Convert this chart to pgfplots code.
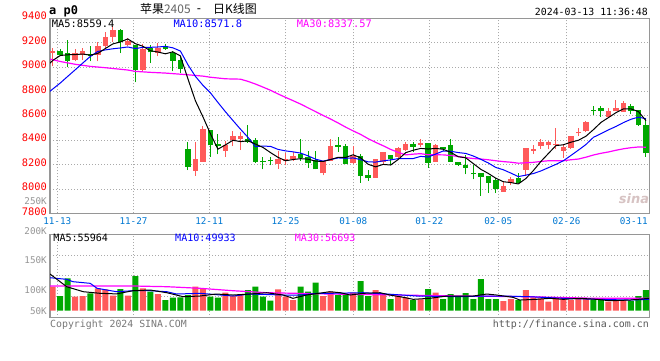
\documentclass[border=0pt]{standalone}
\usepackage{fontspec}
\usepackage{pgfplots}
\usepackage{pgfplotstable}
\pgfplotsset{compat=1.18}
\setmainfont{DejaVu Sans}
\newfontfamily\mono{DejaVu Sans Mono}
\newfontfamily\cjk{Noto Sans CJK SC}
\definecolor{cred}{RGB}{255,90,90}
\definecolor{cgreen}{RGB}{0,168,0}
\definecolor{cblue}{RGB}{0,0,255}
\definecolor{cmag}{RGB}{255,0,255}
\definecolor{cdate}{RGB}{0,120,210}
\definecolor{cgrid}{RGB}{170,170,170}
\definecolor{cframe}{RGB}{150,150,150}
\definecolor{cvlab}{RGB}{150,150,150}
\definecolor{cprice}{RGB}{255,0,0}

% n O H L C V  (V: volume bar height in panel units)
\pgfplotstableread{
n O H L C V
1 9113 9154 9004 9135 40.7
4 9059 9146 9045 9113 23.7
5 9100 9154 9059 9127 24.9
7 9100 9208 9045 9173 38.0
8 9168 9290 9154 9249 36.3
9 9244 9336 9208 9304 25.4
11 9181 9236 9168 9217 25.4
13 8977 9189 8964 9146 38.0
15 9113 9195 9086 9154 28.3
20 8147 8384 8106 8248 40.7
21 8221 8520 8221 8493 38.0
24 8311 8392 8264 8357 30.5
25 8400 8474 8351 8438 24.9
26 8411 8466 8319 8438 28.3
31 8202 8311 8166 8243 36.3
32 8226 8297 8194 8243 23.7
33 8248 8302 8229 8270 18.1
37 8128 8229 8112 8229 24.9
38 8229 8406 8229 8351 32.2
41 8210 8351 8205 8270 30.5
44 8093 8245 8093 8242 35.1
45 8221 8305 8202 8302 26.6
47 8264 8346 8256 8332 24.9
48 8319 8384 8311 8365 22.7
50 8362 8411 8346 8376 19.3
52 8221 8365 8221 8357 30.5
61 7976 8066 7976 8025 16.4
62 8052 8101 8030 8085 19.8
64 8155 8338 8106 8338 35.1
65 8313 8357 8286 8324 22.7
66 8351 8406 8330 8384 21.0
67 8357 8392 8324 8384 15.3
68 8357 8501 8324 8367 22.0
69 8311 8365 8256 8346 21.0
70 8338 8438 8330 8433 18.1
71 8455 8501 8433 8466 21.0
72 8474 8555 8466 8550 21.0
75 8591 8664 8591 8637 15.3
76 8637 8727 8637 8664 18.1
77 8629 8719 8629 8705 18.1
}\redtab

\pgfplotstableread{
n O H L C V
2 9135 9146 9086 9102 24.9
3 9113 9222 8999 9053 54.9
6 9108 9168 9045 9091 29.5
10 9304 9309 9113 9208 36.8
12 9181 9181 8874 8977 58.8
14 9154 9181 9032 9119 32.2
16 9168 9189 9140 9146 18.1
17 9113 9127 8964 9053 22.0
18 9059 9086 8950 8983 22.7
19 8330 8384 8155 8183 26.6
22 8487 8487 8264 8357 23.7
23 8365 8447 8283 8351 22.0
27 8406 8528 8378 8384 35.1
28 8400 8419 8215 8221 40.7
29 8226 8264 8161 8218 23.7
30 8234 8264 8194 8226 16.9
34 8283 8406 8229 8256 40.7
35 8264 8311 8174 8210 32.2
36 8237 8311 8161 8161 47.5
39 8357 8428 8302 8346 26.6
40 8351 8365 8202 8202 26.6
42 8270 8283 8052 8106 50.3
43 8115 8153 8066 8087 24.9
46 8275 8275 8193 8242 19.8
49 8365 8384 8302 8346 18.1
51 8373 8373 8174 8215 36.8
53 8346 8346 8310 8330 19.8
54 8357 8406 8221 8221 28.3
55 8221 8221 8188 8196 24.9
56 8199 8275 8120 8172 30.0
57 8128 8193 8079 8120 19.8
58 8128 8128 7943 8098 53.7
59 8106 8106 7970 8047 19.8
60 8074 8093 7965 8003 19.8
63 8093 8134 8047 8047 18.1
73 8645 8678 8610 8637 18.1
74 8664 8683 8591 8637 18.1
78 8678 8700 8618 8637 16.4
79 8645 8645 8520 8528 24.9
80 8528 8583 8264 8291 35.1
}\greentab

\pgfplotstableread{
n v
0.64 9031
1 9053
2 9094
3 9100
4 9102
5 9106
6 9097
7 9111
8 9151
9 9189
10 9205
11 9230
12 9191
13 9170
14 9133
15 9123
16 9108
17 9124
18 9091
19 8904
20 8723
21 8592
22 8453
23 8326
24 8361
25 8399
26 8388
27 8394
28 8368
29 8340
30 8298
31 8259
32 8231
33 8241
34 8248
35 8244
36 8228
37 8225
38 8241
39 8259
40 8258
41 8280
42 8255
43 8202
44 8181
45 8201
46 8196
47 8241
48 8297
49 8317
50 8332
51 8327
52 8332
53 8325
54 8300
55 8264
56 8255
57 8208
58 8161
59 8127
60 8088
61 8059
62 8052
63 8041
64 8085
65 8150
66 8225
67 8290
68 8355
69 8362
70 8383
71 8399
72 8432
73 8486
74 8545
75 8585
76 8625
77 8656
78 8656
79 8634
80 8560
}\mafive

\pgfplotstableread{
n v
0.64 8800
1 8819
2 8868
3 8923
4 8977
5 9032
6 9086
7 9127
8 9140
9 9149
10 9156
11 9164
12 9151
13 9161
14 9161
15 9164
16 9169
17 9157
18 9131
19 9019
20 8923
21 8850
22 8788
23 8709
24 8633
25 8561
26 8490
27 8423
28 8347
29 8351
30 8349
31 8324
32 8312
33 8304
34 8294
35 8271
36 8244
37 8228
38 8241
39 8254
40 8251
41 8254
42 8240
43 8222
44 8220
45 8230
46 8238
47 8248
48 8249
49 8249
50 8267
51 8261
52 8286
53 8311
54 8309
55 8298
56 8291
57 8270
58 8243
59 8213
60 8176
61 8157
62 8130
63 8101
64 8113
65 8126
66 8147
67 8174
68 8201
69 8231
70 8274
71 8318
72 8364
73 8423
74 8453
75 8484
76 8512
77 8544
78 8571
79 8589
80 8575
}\maten

\pgfplotstableread{
n v
0.64 9064
1 9060
2 9045
4 9022
6 9005
8 8994
11 8975
12 8964
14 8956
16 8950
19 8936
21 8925
22 8916
24 8903
26 8900
27 8882
28 8860
29 8835
30 8809
31 8779
32 8751
33 8724
34 8696
35 8665
36 8634
37 8603
38 8573
39 8541
40 8507
41 8476
42 8447
43 8412
44 8382
45 8354
46 8324
47 8300
48 8279
49 8285
50 8289
51 8280
52 8280
53 8279
54 8274
55 8266
56 8257
57 8249
58 8245
59 8239
60 8231
61 8224
62 8219
63 8211
64 8214
65 8218
66 8225
67 8231
68 8231
69 8231
70 8239
71 8245
72 8260
73 8278
74 8292
75 8303
76 8317
77 8329
78 8338
79 8344
80 8342
}\mathirty

\pgfplotstableread{
n v
0.64 62.2
2.86 40.7
5.08 32.2
7.3 29.5
9.5 28.5
11.7 33.9
13.96 35.1
16.2 30.5
18.4 23.7
20.6 24.9
22.8 28.3
25.0 26.6
27.3 28.3
29.5 30.5
31.7 26.6
33.0 21.0
34.8 26.6
37.9 32.2
39.3 30.5
40.6 26.6
42.4 29.5
44.6 30.5
45.9 26.6
47.7 22.7
49.0 19.3
51.2 21.0
53.5 24.9
57.0 24.9
57.9 26.6
58.8 28.3
60.1 26.6
62.3 22.7
63.2 18.1
65.4 19.3
67.2 21.0
69.0 19.3
71.2 21.0
73.4 19.3
75.2 16.9
77.9 18.1
80.4 21.0
}\vfive

\pgfplotstableread{
n v
0.64 55.9
2.86 53.2
3.7 49.2
6 46.4
6.9 38.0
9.5 32.2
11.7 33.9
14 33.9
16.2 32.2
17.5 28.3
20.6 29.5
25 24.9
27.3 28.3
31.7 26.6
34 26.6
36.2 29.5
37.9 29.5
42.4 30.5
45.5 28.3
49.5 24.9
55.7 23.7
57.9 24.9
61 24.9
64.5 23.7
69 21.0
73.4 19.3
77.9 18.1
80.4 19.3
}\vten

\pgfplotstableread{
n v
0.64 41.9
5.1 41.9
11.7 41.9
16.2 40.7
20.6 38.0
25 33.9
29.5 30.5
37.9 28.3
46.8 26.6
55.7 24.9
64.5 23.7
73.4 21.0
80.4 21.0
}\vthirty

\begin{document}
\begin{tikzpicture}[x=1bp,y=1bp,
  lab/.style={inner sep=0pt, text height=0.73em, text depth=0pt}]
\fill[white] (0,0) rectangle (660,360);
\path[use as bounding box] (0,0) rectangle (660,360);

% ---------------- price panel ----------------
\begin{axis}[
  at={(50bp,146.7bp)}, anchor=south west,
  width=599.5bp, height=195.1bp, scale only axis,
  xmin=0.64, xmax=80.47, ymin=7800, ymax=9400,
  axis line style={cframe, line width=1.2bp},
  tick style={draw=none}, major tick length=0pt,
  xtick={1.61,11.76,21.85,32.0,41.03,51.15,60.33,69.42},
  xticklabels={11-13,11-27,12-11,12-25,01-08,01-22,02-05,02-26},
  extra x ticks={78.38}, extra x tick labels={03-11},
  extra x tick style={grid=none},
  ytick={7800,8000,8200,8400,8600,8800,9000,9200,9400},
  yticklabels={7800,8000,8200,8400,8600,8800,9000,9200,9400},
  grid=major,
  grid style={cgrid, line width=0.8bp, dash pattern=on 1bp off 2bp},
  xticklabel style={font=\mono\fontsize{9.3}{10}\selectfont, text=cdate,
    anchor=north, inner sep=0pt, yshift=-4.3bp},
  yticklabel style={font=\mono\fontsize{10.4}{11}\selectfont, text=cprice,
    anchor=east, inner sep=0pt, xshift=-3bp, yshift=2bp},
  candle/.style={draw=none, mark=none, forget plot,
    error bars/y dir=plus, error bars/y explicit, error bars/error mark=none},
]
% red candles
\addplot[candle, error bars/error bar style={draw=cred, line width=1bp}]
  table[x=n, y=L, y error expr=\thisrow{H}-\thisrow{L}] {\redtab};
\addplot[candle, error bars/error bar style={draw=cred, line width=5.5bp}]
  table[x=n, y=O, y error expr=\thisrow{C}-\thisrow{O}] {\redtab};
% green candles
\addplot[candle, error bars/error bar style={draw=cgreen, line width=1bp}]
  table[x=n, y=L, y error expr=\thisrow{H}-\thisrow{L}] {\greentab};
\addplot[candle, error bars/error bar style={draw=cgreen, line width=5.5bp}]
  table[x=n, y=C, y error expr=\thisrow{O}-\thisrow{C}] {\greentab};
% moving averages
\addplot[cmag, line width=1.2bp, mark=none] table[x=n, y=v] {\mathirty};
\addplot[cblue, line width=1bp, mark=none] table[x=n, y=v] {\maten};
\addplot[black, line width=1bp, mark=none] table[x=n, y=v] {\mafive};
\end{axis}

% ---------------- volume panel ----------------
\begin{axis}[
  at={(50bp,42.5bp)}, anchor=south west,
  width=599.5bp, height=83.2bp, scale only axis,
  xmin=0.64, xmax=80.47, ymin=-11.5, ymax=129.5,
  axis line style={cframe, line width=1.2bp},
  tick style={draw=none}, major tick length=0pt, minor tick length=0pt,
  xtick={1.61,11.76,21.85,32.0,41.03,51.15,60.33,69.42},
  xticklabels={}, xmajorgrids=true,
  ytick={0,35.1,85.9}, yticklabels={50K,100K,150K},
  extra y ticks={129.5}, extra y tick labels={200K},
  extra y tick style={yticklabel style={yshift=3.3bp}},
  minor ytick={24.0,59.2,94.3}, yminorgrids=true, ymajorgrids=false,
  grid style={cgrid, line width=0.8bp, dash pattern=on 1bp off 2bp},
  minor grid style={cgrid, line width=0.8bp, dash pattern=on 1bp off 2bp},
  yticklabel style={font=\mono\fontsize{9.3}{10}\selectfont, text=cvlab,
    anchor=east, inner sep=0pt, xshift=-3bp},
]
\addplot[ybar, bar width=6bp, bar shift=0pt, fill=cred, draw=none]
  table[x=n, y=V] {\redtab};
\addplot[ybar, bar width=6bp, bar shift=0pt, fill=cgreen, draw=none]
  table[x=n, y=V] {\greentab};
\addplot[cmag, line width=1.2bp, mark=none] table[x=n, y=v] {\vthirty};
\addplot[cblue, line width=1bp, mark=none] table[x=n, y=v] {\vten};
\addplot[black, line width=1bp, mark=none] table[x=n, y=v] {\vfive};
\end{axis}

% ---------------- texts ----------------
\node[lab, anchor=west, font=\mono\bfseries\fontsize{12}{12}\selectfont] at (49,349) {a p0};
\node[anchor=west, inner sep=0pt, font=\cjk\fontsize{12}{12}\selectfont] at (140,351) {苹果\textcolor[RGB]{100,100,100}{2405}};
\node[lab, anchor=center, font=\mono\fontsize{12}{12}\selectfont] at (199,351) {-};
\node[anchor=west, inner sep=0pt, font=\cjk\fontsize{12}{12}\selectfont] at (213,351) {日K线图};
\node[lab, anchor=east, font=\mono\fontsize{9.9}{10}\selectfont] at (648,348.3) {2024-03-13 11:36:48};

\node[lab, anchor=west, font=\mono\fontsize{10.4}{11}\selectfont] at (51.7,336.3) {MA5:8559.4};
\node[lab, anchor=west, font=\mono\fontsize{10.4}{11}\selectfont, text=cblue] at (173.3,336.3) {MA10:8571.8};
\node[lab, anchor=west, font=\mono\fontsize{10.4}{11}\selectfont, text=cmag] at (296.7,336.3) {MA30:8337.57};

\node[lab, anchor=west, font=\mono\fontsize{10.1}{11}\selectfont] at (53.3,121.7) {MA5:55964};
\node[lab, anchor=west, font=\mono\fontsize{10.1}{11}\selectfont, text=cblue] at (175,121.7) {MA10:49933};
\node[lab, anchor=west, font=\mono\fontsize{10.1}{11}\selectfont, text=cmag] at (294.7,121.7) {MA30:56693};

\node[lab, anchor=east, font=\mono\fontsize{9.3}{10}\selectfont, text=cvlab] at (47,159.3) {250K};

\node[lab, anchor=west, font=\mono\fontsize{9.9}{10}\selectfont, text={rgb,255:red,120;green,120;blue,120}] at (50,36.3) {Copyright 2024 SINA.COM};
\node[lab, anchor=east, font=\mono\fontsize{10}{10}\selectfont, text={rgb,255:red,90;green,90;blue,90}] at (649,36.3) {http://finance.sina.com.cn};

\node[inner sep=0pt, font=\bfseries\itshape\fontsize{13}{13}\selectfont, text={rgb,255:red,215;green,195;blue,195}] at (634,161) {sina};
\end{tikzpicture}
\end{document}
